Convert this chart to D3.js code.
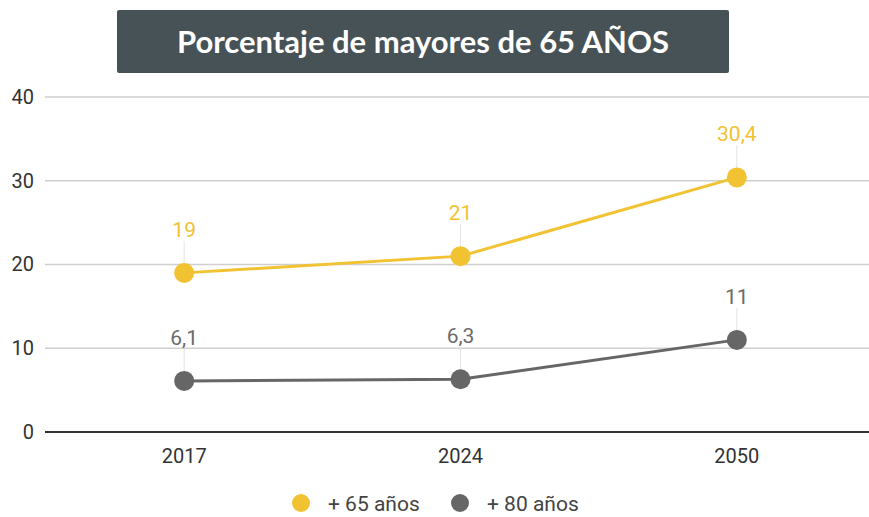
<!DOCTYPE html>
<html lang="es">
<head>
  <meta charset="utf-8">
  <title>Porcentaje de mayores de 65 años</title>
  <script src="https://d3js.org/d3.v7.min.js"></script>
  <style>
    body { margin: 0; background: #fff; }
    .axis text { font-family: Roboto, sans-serif; font-size: 20px; fill: #333; }
    .grid line { stroke: #cfcfcf; stroke-width: 1.5; }
  </style>
</head>
<body>
<script>
  // data
  var years = ["2017", "2024", "2050"];
  var mayores65 = [19, 21, 30.4];
  var mayores80 = [6.1, 6.3, 11];
  var seriesNames = ["+ 65 años", "+ 80 años"];
  var colors = ["#f1c232", "#666666"];
  var yTicks = [0, 10, 20, 30, 40];

  var width = 869, height = 517;

  var svg = d3.select("body").append("svg")
      .attr("width", width)
      .attr("height", height);

  // title box
  svg.append("rect")
      .attr("x", 117).attr("y", 10)
      .attr("width", 612).attr("height", 63)
      .attr("rx", 2)
      .style("fill", "#475257");
  svg.append("text")
      .attr("x", 423).attr("y", 53)
      .attr("text-anchor", "middle")
      .style("font-family", "Lato, sans-serif")
      .style("font-weight", "bold")
      .style("font-size", "31px")
      .style("fill", "#fff")
      .text("Porcentaje de mayores de 65 AÑOS");

  var xScale = d3.scaleBand().domain(years).range([46, 875]);
  var yScale = d3.scaleLinear().domain([0, 40]).range([432, 97]);

  // gridlines
  svg.append("g").attr("class", "grid")
    .selectAll("line").data(yTicks.filter(function(d) { return d > 0; }))
    .enter().append("line")
      .attr("x1", 45).attr("x2", width)
      .attr("y1", function(d) { return yScale(d); })
      .attr("y2", function(d) { return yScale(d); });

  // y axis
  var yAxis = d3.axisLeft(yScale).tickValues(yTicks).tickSize(0).tickPadding(11);
  var gy = svg.append("g").attr("class", "axis")
      .attr("transform", "translate(45,0)")
      .call(yAxis);
  gy.select(".domain").remove();

  // x axis
  var xAxis = d3.axisBottom(xScale).tickSize(0).tickPadding(17);
  var gx = svg.append("g").attr("class", "axis")
      .attr("transform", "translate(0," + yScale(0) + ")")
      .call(xAxis);
  gx.select(".domain").remove();
  svg.append("line")
      .attr("x1", 45).attr("x2", width)
      .attr("y1", yScale(0)).attr("y2", yScale(0))
      .style("stroke", "#333").style("stroke-width", 2);

  var cx = function(i) { return xScale(years[i]) + xScale.bandwidth() / 2; };
  var fmt = function(v) { return String(v).replace(".", ","); };

  var line = d3.line()
      .x(function(d, i) { return cx(i); })
      .y(function(d) { return yScale(d); });

  [mayores65, mayores80].forEach(function(values, s) {
    var g = svg.append("g");

    // leader lines
    g.selectAll(".leader").data(values).enter().append("line")
        .attr("x1", function(d, i) { return cx(i); })
        .attr("x2", function(d, i) { return cx(i); })
        .attr("y1", function(d) { return yScale(d) - 32; })
        .attr("y2", function(d) { return yScale(d) - 8; })
        .style("stroke", "#e3e3e3").style("stroke-width", 1);

    g.append("path").datum(values)
        .attr("d", line)
        .style("fill", "none")
        .style("stroke", colors[s])
        .style("stroke-width", 3);

    g.selectAll("circle").data(values).enter().append("circle")
        .attr("cx", function(d, i) { return cx(i); })
        .attr("cy", function(d) { return yScale(d); })
        .attr("r", 10)
        .style("fill", colors[s]);

    g.selectAll(".lbl").data(values).enter().append("text")
        .attr("x", function(d, i) { return cx(i); })
        .attr("y", function(d) { return yScale(d) - 36; })
        .attr("text-anchor", "middle")
        .style("font-family", "Roboto, sans-serif")
        .style("font-size", "21px")
        .style("fill", s === 0 ? "#f1c232" : "#6b6b6b")
        .text(fmt);
  });

  // legend
  var legendX = [301, 460];
  seriesNames.forEach(function(name, s) {
    svg.append("circle")
        .attr("cx", legendX[s]).attr("cy", 503).attr("r", 9)
        .style("fill", colors[s]);
    svg.append("text")
        .attr("x", legendX[s] + 27).attr("y", 511)
        .style("font-family", "Roboto, sans-serif")
        .style("font-size", "21px")
        .style("fill", "#444")
        .text(name);
  });
</script>
</body>
</html>
